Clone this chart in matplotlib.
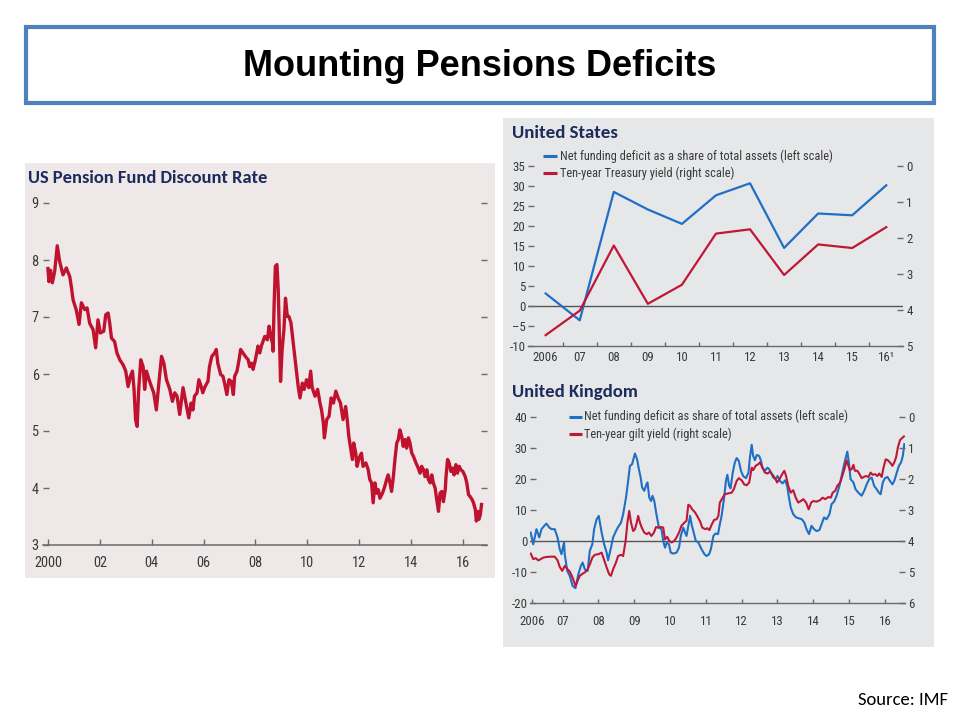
import matplotlib
matplotlib.use("Agg")
import matplotlib.pyplot as plt
import matplotlib.font_manager as fm
from matplotlib.patches import Rectangle
from matplotlib.lines import Line2D

# ---------------- data ----------------
disc_years = [2000.00, 2000.04, 2000.10, 2000.17, 2000.26, 2000.36, 2000.45, 2000.58, 2000.71, 2000.84,
              2000.90, 2000.97, 2001.09, 2001.20, 2001.29, 2001.42, 2001.51, 2001.61, 2001.74, 2001.84,
              2001.93, 2002.02, 2002.15, 2002.23, 2002.32, 2002.38, 2002.45, 2002.57, 2002.66, 2002.77,
              2002.90, 2003.00, 2003.09, 2003.18, 2003.26, 2003.32, 2003.38, 2003.44, 2003.50, 2003.58,
              2003.67, 2003.73, 2003.80, 2003.90, 2003.99, 2004.08, 2004.18, 2004.29, 2004.38, 2004.47,
              2004.57, 2004.70, 2004.80, 2004.89, 2004.98, 2005.08, 2005.21, 2005.32, 2005.43, 2005.52,
              2005.59, 2005.65, 2005.75, 2005.82, 2005.91, 2005.97, 2006.06, 2006.17, 2006.23, 2006.32,
              2006.43, 2006.49, 2006.55, 2006.66, 2006.75, 2006.81, 2006.90, 2006.98, 2007.07, 2007.15,
              2007.20, 2007.29, 2007.37, 2007.43, 2007.52, 2007.61, 2007.72, 2007.78, 2007.85, 2007.91,
              2008.00, 2008.10, 2008.17, 2008.23, 2008.36, 2008.46, 2008.53, 2008.59, 2008.66, 2008.68,
              2008.72, 2008.77, 2008.83, 2008.88, 2008.92, 2008.97, 2009.03, 2009.10, 2009.16, 2009.23,
              2009.29, 2009.37, 2009.46, 2009.52, 2009.59, 2009.65, 2009.72, 2009.81, 2009.88, 2009.97,
              2010.06, 2010.13, 2010.19, 2010.30, 2010.40, 2010.49, 2010.55, 2010.62, 2010.66, 2010.75,
              2010.84, 2010.92, 2011.01, 2011.10, 2011.19, 2011.28, 2011.38, 2011.48, 2011.54, 2011.60,
              2011.66, 2011.74, 2011.79, 2011.87, 2011.92, 2012.00, 2012.09, 2012.15, 2012.26, 2012.35,
              2012.41, 2012.48, 2012.54, 2012.61, 2012.67, 2012.74, 2012.80, 2012.90, 2012.99, 2013.06,
              2013.12, 2013.19, 2013.25, 2013.32, 2013.38, 2013.45, 2013.51, 2013.57, 2013.64, 2013.70,
              2013.77, 2013.83, 2013.90, 2013.96, 2014.03, 2014.09, 2014.19, 2014.28, 2014.35, 2014.41,
              2014.48, 2014.54, 2014.61, 2014.67, 2014.74, 2014.80, 2014.86, 2014.93, 2014.99, 2015.06,
              2015.12, 2015.19, 2015.25, 2015.32, 2015.35, 2015.41, 2015.47, 2015.54, 2015.60, 2015.66,
              2015.73, 2015.79, 2015.86, 2015.92, 2016.00, 2016.09, 2016.15, 2016.22, 2016.28, 2016.35,
              2016.41, 2016.48, 2016.52, 2016.57, 2016.62, 2016.67, 2016.72]
disc_rate = [7.85, 7.62, 7.82, 7.60, 7.80, 8.25, 7.98, 7.74, 7.86, 7.71,
             7.54, 7.30, 7.13, 6.87, 7.25, 7.13, 7.16, 6.89, 6.78, 6.46,
             6.95, 6.72, 6.75, 7.04, 7.07, 6.90, 6.63, 6.57, 6.37, 6.25,
             6.16, 6.05, 5.78, 5.96, 6.05, 5.73, 5.20, 5.08, 5.73, 6.25,
             6.13, 5.73, 6.05, 5.90, 5.78, 5.67, 5.37, 5.90, 6.31, 6.19,
             5.90, 5.73, 5.52, 5.67, 5.61, 5.29, 5.76, 5.49, 5.23, 5.49,
             5.37, 5.61, 5.67, 5.90, 5.78, 5.67, 5.78, 5.87, 6.13, 6.31,
             6.37, 6.43, 6.19, 5.99, 5.96, 5.84, 5.64, 5.90, 5.87, 5.64,
             5.96, 6.05, 6.25, 6.43, 6.37, 6.31, 6.25, 6.13, 6.19, 6.08,
             6.25, 6.49, 6.37, 6.49, 6.66, 6.60, 6.84, 6.66, 6.54, 6.40,
             7.19, 7.89, 7.92, 7.48, 6.78, 5.87, 6.43, 6.78, 7.33, 7.01,
             7.01, 6.90, 6.54, 6.31, 6.02, 5.78, 5.58, 5.84, 5.73, 5.90,
             5.76, 6.05, 5.76, 5.61, 5.73, 5.49, 5.37, 5.14, 4.88, 5.20,
             5.26, 5.58, 5.49, 5.70, 5.58, 5.49, 5.20, 5.43, 5.20, 4.91,
             4.73, 4.50, 4.79, 4.61, 4.38, 4.53, 4.61, 4.38, 4.44, 4.32,
             4.15, 4.09, 3.74, 4.09, 3.91, 3.97, 3.82, 3.91, 4.03, 4.15,
             4.23, 4.09, 3.94, 4.20, 4.50, 4.79, 4.85, 5.02, 4.91, 4.73,
             4.85, 4.70, 4.88, 4.79, 4.61, 4.56, 4.44, 4.35, 4.26, 4.38,
             4.32, 4.20, 4.32, 4.15, 4.09, 4.23, 4.09, 4.00, 3.80, 3.59,
             3.91, 3.94, 3.76, 3.97, 4.20, 4.50, 4.44, 4.29, 4.35, 4.23,
             4.41, 4.26, 4.38, 4.32, 4.29, 4.20, 4.09, 3.88, 3.85, 3.80,
             3.74, 3.62, 3.42, 3.59, 3.45, 3.53, 3.71]
disc_xticks = [2000, 2002, 2004, 2006, 2008, 2010, 2012, 2014, 2016]
disc_xlabels = ["2000", "02", "04", "06", "08", "10", "12", "14", "16"]
disc_yticks = [3, 4, 5, 6, 7, 8, 9]

us_years = [2006, 2007, 2008, 2009, 2010, 2011, 2012, 2013, 2014, 2015, 2016]
us_xlabels = ["2006", "07", "08", "09", "10", "11", "12", "13", "14", "15", "16\u00b9"]
us_deficit = [3.2, -3.5, 28.6, 24.2, 20.6, 27.75, 30.75, 14.6, 23.2, 22.75, 30.25]
us_yield = [4.69, 4.01, 2.20, 3.82, 3.29, 1.87, 1.75, 3.02, 2.17, 2.27, 1.69]
us_left_ticks = [-10, -5, 0, 5, 10, 15, 20, 25, 30, 35]
us_left_labels = ["-10", "\u20135", "0", "5", "10", "15", "20", "25", "30", "35"]
us_right_ticks = [0, 1, 2, 3, 4, 5]

uk_def_years = [2006.11, 2006.18, 2006.27, 2006.35, 2006.41, 2006.49, 2006.55, 2006.63, 2006.69, 2006.78,
                2006.86, 2006.92, 2006.97, 2007.04, 2007.06, 2007.13, 2007.20, 2007.28, 2007.36, 2007.44,
                2007.51, 2007.56, 2007.62, 2007.70, 2007.76, 2007.83, 2007.88, 2007.95, 2008.01, 2008.09,
                2008.16, 2008.23, 2008.27, 2008.35, 2008.41, 2008.49, 2008.55, 2008.63, 2008.69, 2008.77,
                2008.83, 2008.88, 2008.94, 2008.99, 2009.02, 2009.08, 2009.13, 2009.18, 2009.22, 2009.28,
                2009.34, 2009.37, 2009.42, 2009.47, 2009.51, 2009.56, 2009.62, 2009.69, 2009.76, 2009.81,
                2009.86, 2009.91, 2009.97, 2010.02, 2010.09, 2010.18, 2010.25, 2010.30, 2010.37, 2010.42,
                2010.46, 2010.51, 2010.56, 2010.60, 2010.67, 2010.72, 2010.79, 2010.88, 2010.96, 2011.02,
                2011.09, 2011.14, 2011.21, 2011.27, 2011.34, 2011.39, 2011.44, 2011.51, 2011.56, 2011.60,
                2011.65, 2011.69, 2011.75, 2011.81, 2011.86, 2011.92, 2011.98, 2012.04, 2012.12, 2012.19,
                2012.23, 2012.28, 2012.32, 2012.37, 2012.42, 2012.49, 2012.54, 2012.58, 2012.65, 2012.72,
                2012.77, 2012.82, 2012.88, 2012.95, 2013.00, 2013.07, 2013.14, 2013.21, 2013.27, 2013.32,
                2013.37, 2013.44, 2013.52, 2013.60, 2013.68, 2013.75, 2013.81, 2013.88, 2013.95, 2014.02,
                2014.09, 2014.17, 2014.23, 2014.30, 2014.37, 2014.45, 2014.51, 2014.58, 2014.65, 2014.73,
                2014.79, 2014.86, 2014.91, 2014.95, 2015.00, 2015.04, 2015.12, 2015.18, 2015.26, 2015.35,
                2015.42, 2015.49, 2015.56, 2015.63, 2015.70, 2015.77, 2015.83, 2015.88, 2015.94, 2016.00,
                2016.07, 2016.14, 2016.21, 2016.26, 2016.33, 2016.39, 2016.45, 2016.50, 2016.54]
uk_deficit = [2.7, -1.1, 3.8, 1.1, 3.8, 4.9, 5.6, 4.3, 3.8, 3.8,
              1.1, -2.7, -4.3, -0.5, -4.3, -9.7, -11.3, -14.6, -15.3, -10.8,
              -8.1, -7.0, -9.2, -9.7, -3.2, -1.1, 3.8, 7.0, 8.1, 2.7,
              -1.1, -3.8, -6.3, -2.2, 1.1, 3.2, 4.5, 5.9, 8.6, 14.0,
              19.4, 24.3, 24.8, 27.0, 28.3, 26.4, 23.2, 20.5, 17.3, 16.2,
              18.3, 18.9, 14.0, 12.9, 14.6, 12.9, 8.6, 4.3, 3.8, 0.0,
              -2.2, -0.5, -1.1, -3.8, -4.1, -3.8, -2.2, 1.6, 4.3, 2.7,
              1.6, 4.9, 8.1, 5.4, 2.2, 0.0, -0.5, -2.7, -4.3, -4.9,
              -4.3, -2.7, 1.6, 2.4, 2.2, 5.4, 8.1, 14.0, 19.4, 21.4,
              17.8, 17.0, 22.1, 25.4, 26.8, 25.9, 22.7, 21.0, 20.3, 22.1,
              27.0, 31.1, 27.5, 26.1, 27.8, 27.5, 25.9, 23.7, 22.7, 23.7,
              23.2, 22.1, 20.5, 20.0, 21.0, 19.4, 18.6, 19.6, 17.8, 14.0,
              10.8, 8.6, 7.6, 7.3, 7.0, 5.9, 3.8, 2.2, 4.9, 3.8,
              3.2, 3.5, 5.4, 7.6, 7.0, 8.6, 11.9, 12.7, 14.6, 17.8,
              21.0, 24.8, 27.0, 28.9, 24.8, 20.0, 18.9, 16.7, 15.6, 14.6,
              16.2, 18.3, 20.0, 20.5, 17.8, 16.7, 15.6, 15.1, 18.9, 20.3,
              20.7, 19.4, 18.3, 19.4, 22.1, 24.3, 25.4, 27.5, 31.3]
uk_yld_years = [2006.11, 2006.18, 2006.25, 2006.32, 2006.39, 2006.46, 2006.55, 2006.69, 2006.78, 2006.86,
                2006.92, 2006.99, 2007.06, 2007.14, 2007.20, 2007.28, 2007.36, 2007.42, 2007.48, 2007.56,
                2007.62, 2007.70, 2007.76, 2007.83, 2007.90, 2008.00, 2008.09, 2008.15, 2008.23, 2008.30,
                2008.35, 2008.41, 2008.49, 2008.55, 2008.63, 2008.69, 2008.76, 2008.81, 2008.86, 2008.91,
                2008.97, 2009.02, 2009.07, 2009.11, 2009.16, 2009.21, 2009.28, 2009.35, 2009.41, 2009.48,
                2009.55, 2009.61, 2009.67, 2009.75, 2009.81, 2009.86, 2009.92, 2009.98, 2010.04, 2010.12,
                2010.18, 2010.25, 2010.32, 2010.40, 2010.46, 2010.51, 2010.56, 2010.62, 2010.70, 2010.77,
                2010.84, 2010.90, 2010.98, 2011.04, 2011.10, 2011.16, 2011.23, 2011.30, 2011.35, 2011.39,
                2011.47, 2011.53, 2011.63, 2011.72, 2011.78, 2011.86, 2011.92, 2012.00, 2012.07, 2012.14,
                2012.21, 2012.28, 2012.32, 2012.39, 2012.46, 2012.51, 2012.58, 2012.65, 2012.72, 2012.79,
                2012.85, 2012.93, 2012.99, 2013.07, 2013.14, 2013.19, 2013.24, 2013.30, 2013.37, 2013.44,
                2013.51, 2013.58, 2013.65, 2013.72, 2013.80, 2013.87, 2013.94, 2014.00, 2014.09, 2014.19,
                2014.26, 2014.33, 2014.42, 2014.49, 2014.54, 2014.61, 2014.67, 2014.75, 2014.81, 2014.88,
                2014.93, 2014.98, 2015.02, 2015.07, 2015.12, 2015.16, 2015.23, 2015.29, 2015.35, 2015.41,
                2015.47, 2015.54, 2015.60, 2015.66, 2015.72, 2015.79, 2015.84, 2015.91, 2015.96, 2016.02,
                2016.08, 2016.14, 2016.21, 2016.26, 2016.31, 2016.36, 2016.42, 2016.47, 2016.53]
uk_yield = [4.41, 4.59, 4.56, 4.63, 4.59, 4.54, 4.52, 4.51, 4.51, 4.63,
            4.84, 4.97, 4.81, 4.92, 4.99, 5.19, 5.46, 5.29, 5.13, 5.06,
            5.02, 4.92, 4.76, 4.54, 4.45, 4.43, 4.38, 4.59, 4.86, 5.08,
            5.13, 4.92, 4.70, 4.49, 4.45, 4.49, 4.00, 3.41, 3.03, 3.41,
            3.68, 3.62, 3.41, 3.19, 3.41, 3.57, 3.73, 3.78, 3.73, 3.84,
            3.73, 3.55, 3.57, 3.55, 3.57, 3.95, 3.87, 4.00, 4.05, 4.00,
            3.89, 3.73, 3.51, 3.41, 3.35, 2.83, 2.87, 2.98, 3.08, 3.22,
            3.37, 3.57, 3.62, 3.59, 3.65, 3.48, 3.32, 3.30, 3.19, 2.76,
            2.60, 2.49, 2.46, 2.44, 2.33, 2.06, 1.97, 2.04, 2.17, 2.20,
            2.11, 1.63, 1.71, 1.57, 1.52, 1.46, 1.63, 1.79, 1.82, 1.76,
            1.84, 1.97, 2.11, 1.97, 1.82, 1.73, 1.90, 2.22, 2.44, 2.36,
            2.60, 2.76, 2.71, 2.65, 2.76, 2.98, 2.76, 2.71, 2.73, 2.68,
            2.60, 2.65, 2.58, 2.60, 2.44, 2.38, 2.22, 2.11, 1.90, 1.63,
            1.39, 1.57, 1.71, 1.68, 1.54, 1.73, 1.73, 1.84, 1.97, 1.93,
            1.90, 1.93, 1.79, 1.86, 1.84, 1.90, 1.82, 1.93, 1.63, 1.36,
            1.39, 1.46, 1.57, 1.46, 1.30, 0.98, 0.74, 0.68, 0.62]
uk_xticks = [2006.15, 2007, 2008, 2009, 2010, 2011, 2012, 2013, 2014, 2015, 2016]
uk_xlabels = ["2006", "07", "08", "09", "10", "11", "12", "13", "14", "15", "16"]
uk_left_ticks = [-20, -10, 0, 10, 20, 30, 40]
uk_right_ticks = [0, 1, 2, 3, 4, 5, 6]

# ---------------- fonts ----------------
names = {f.name for f in fm.fontManager.ttflist}
NARROW = "Liberation Sans"
for cand in ["Liberation Sans Narrow", "Arial Narrow", "Roboto Condensed", "Noto Sans Condensed",
             "Open Sans Condensed", "Noto Sans SemiCondensed"]:
    if cand in names:
        NARROW = cand
        break
HEAD = "Carlito" if "Carlito" in names else "Lato"

NAVY = "#1c2a5c"
TXT = "#3a3a3a"
BLUE = "#1f6fc4"
RED = "#bf1737"
RED_L = "#c0122f"

W, H = 960, 720
fig = plt.figure(figsize=(9.6, 7.2), dpi=100)
fig.patch.set_facecolor("white")
renderer = fig.canvas.get_renderer()


def fx(px):
    return px / W


def fy(py):
    return 1 - py / H


def text_width(txt, family, size, weight="normal"):
    t = fig.text(0, 0, txt, family=family, fontsize=size, fontweight=weight)
    w = t.get_window_extent(renderer).width
    t.remove()
    return w


def fit_size(txt, family, target_px, weight="normal"):
    return 10.0 * target_px / text_width(txt, family, 10.0, weight)


# sizes derived from widths measured on the reference
R_FS = fit_size("Net funding deficit as a share of total assets (left scale)", NARROW, 271)
T_FS = fit_size("2006", NARROW, 25)
L_FS = fit_size("2000", NARROW, 28)
TITLE_FS = fit_size("Mounting Pensions Deficits", "Liberation Sans", 474, "bold")
HL_FS = fit_size("US Pension Fund Discount Rate", HEAD, 240, "bold")
HU_FS = fit_size("United States", HEAD, 106, "bold")
HK_FS = fit_size("United Kingdom", HEAD, 126, "bold")
SRC_FS = fit_size("Source: IMF", HEAD, 90)


def axes_px(left, top, right, bottom):
    return fig.add_axes([fx(left), fy(bottom), fx(right - left), (bottom - top) / H])


# title box
fig.patches.append(Rectangle((fx(26), fy(103)), fx(908), (103 - 27) / H, transform=fig.transFigure,
                             facecolor="white", edgecolor="#4f81bd", linewidth=3, zorder=-5))
fig.text(fx(480), fy(66), "Mounting Pensions Deficits", ha="center", va="center",
         fontsize=TITLE_FS, fontweight="bold", family="Liberation Sans", color="black")

# panels
fig.patches.append(Rectangle((fx(25), fy(578)), fx(470), (578 - 163) / H, transform=fig.transFigure,
                             facecolor="#eee8e8", edgecolor="none", zorder=-5))
fig.patches.append(Rectangle((fx(503), fy(647)), fx(431), (647 - 118) / H, transform=fig.transFigure,
                             facecolor="#e6e7e9", edgecolor="none", zorder=-5))

# ---------------- left chart ----------------
axL = axes_px(43, 203, 487, 545)
axL.patch.set_alpha(0)
axL.plot(disc_years, disc_rate, color=RED_L, lw=2.4, solid_joinstyle="round")
axL.set_xlim(1999.81, 2016.93)
axL.set_ylim(3, 9)
for s in ["top", "left", "right"]:
    axL.spines[s].set_visible(False)
axL.spines["bottom"].set_color("#6a6a6a")
axL.spines["bottom"].set_linewidth(1.1)
axL.set_xticks(disc_xticks)
axL.set_xticklabels(disc_xlabels)
axL.set_yticks(disc_yticks)
axL.set_yticklabels([str(v) for v in disc_yticks])
axL.tick_params(axis="x", direction="in", length=4.5, width=1, color="#6a6a6a", pad=8,
                labelsize=L_FS, labelcolor=TXT)
axL.tick_params(axis="y", direction="in", length=4, width=1, color="#6a6a6a", pad=3,
                labelsize=L_FS, labelcolor=TXT, right=True, labelright=False)
for lab in axL.get_xticklabels() + axL.get_yticklabels():
    lab.set_family(NARROW)
fig.text(fx(28), fy(183), "US Pension Fund Discount Rate", ha="left", va="baseline",
         fontsize=HL_FS, fontweight="bold", family=HEAD, color=NAVY)

# ---------------- US chart ----------------
axU = axes_px(528.3, 166.3, 903.3, 346.3)
axU.patch.set_alpha(0)
axU.set_xlim(2005.49, 2016.5)
axU.set_ylim(-10, 35)
axU.axhline(0, color="#555555", lw=1.0, zorder=1)
axU.plot(us_years, us_deficit, color=BLUE, lw=1.6, zorder=3)
axU2 = axU.twinx()
axU2.set_ylim(5, 0)
axU2.plot(us_years, us_yield, color=RED, lw=1.6, zorder=3)
for a in (axU, axU2):
    for s in ["top", "left", "right", "bottom"]:
        a.spines[s].set_visible(False)
axU.spines["bottom"].set_visible(True)
axU.spines["bottom"].set_color("#6a6a6a")
axU.spines["bottom"].set_linewidth(1.0)
axU.set_xticks(us_years)
axU.set_xticklabels(us_xlabels)
axU.set_xticks([y + 0.5 for y in us_years[:-1]], minor=True)
axU.tick_params(axis="x", which="major", length=0, pad=3.5, labelsize=T_FS, labelcolor=TXT)
axU.tick_params(axis="x", which="minor", direction="in", length=3, width=1, color="#6a6a6a")
axU.set_yticks(us_left_ticks)
axU.set_yticklabels(us_left_labels)
axU.tick_params(axis="y", direction="in", length=4, width=1, color="#6a6a6a", pad=2,
                labelsize=T_FS, labelcolor=TXT)
axU2.set_yticks(us_right_ticks)
axU2.set_yticklabels([str(v) for v in us_right_ticks])
axU2.tick_params(axis="y", direction="in", length=4, width=1, color="#6a6a6a", pad=2,
                 labelsize=T_FS, labelcolor=TXT)
for lab in axU.get_xticklabels() + axU.get_yticklabels() + axU2.get_yticklabels():
    lab.set_family(NARROW)
fig.text(fx(512), fy(138), "United States", ha="left", va="baseline",
         fontsize=HU_FS, fontweight="bold", family=HEAD, color=NAVY)

# ---------------- UK chart ----------------
axK = axes_px(530, 417.3, 905, 602.7)
axK.patch.set_alpha(0)
axK.set_xlim(2006.09, 2016.56)
axK.set_ylim(-20, 40)
axK.axhline(0, color="#555555", lw=1.0, zorder=1)
axK.plot(uk_def_years, uk_deficit, color=BLUE, lw=1.5, zorder=3)
axK2 = axK.twinx()
axK2.set_ylim(6, 0)
axK2.plot(uk_yld_years, uk_yield, color=RED, lw=1.5, zorder=2)
for a in (axK, axK2):
    for s in ["top", "left", "right", "bottom"]:
        a.spines[s].set_visible(False)
axK.spines["bottom"].set_visible(True)
axK.spines["bottom"].set_color("#6a6a6a")
axK.spines["bottom"].set_linewidth(1.0)
axK.set_xticks(uk_xticks)
axK.set_xticklabels(uk_xlabels)
axK.tick_params(axis="x", direction="in", length=3, width=1, color="#6a6a6a", pad=8.5,
                labelsize=T_FS, labelcolor=TXT)
axK.set_yticks(uk_left_ticks)
axK.set_yticklabels([str(v) for v in uk_left_ticks])
axK.tick_params(axis="y", direction="in", length=4, width=1, color="#6a6a6a", pad=2,
                labelsize=T_FS, labelcolor=TXT)
axK2.set_yticks(uk_right_ticks)
axK2.set_yticklabels([str(v) for v in uk_right_ticks])
axK2.tick_params(axis="y", direction="in", length=4, width=1, color="#6a6a6a", pad=2,
                 labelsize=T_FS, labelcolor=TXT)
for lab in axK.get_xticklabels() + axK.get_yticklabels() + axK2.get_yticklabels():
    lab.set_family(NARROW)
fig.text(fx(512), fy(397), "United Kingdom", ha="left", va="baseline",
         fontsize=HK_FS, fontweight="bold", family=HEAD, color=NAVY)


# legends
def legend_entry(x0, x1, ypx, color, label):
    fig.add_artist(Line2D([fx(x0), fx(x1)], [fy(ypx), fy(ypx)], transform=fig.transFigure,
                          color=color, lw=2.2, solid_capstyle="butt"))
    fig.text(fx(x1 + 2.5), fy(ypx), label, ha="left", va="center", fontsize=R_FS,
             family=NARROW, color=TXT)


legend_entry(542.7, 557, 156.3, BLUE, "Net funding deficit as a share of total assets (left scale)")
legend_entry(542.7, 557, 173, RED, "Ten-year Treasury yield (right scale)")
legend_entry(568.7, 582, 416.7, BLUE, "Net funding deficit as share of total assets (left scale)")
legend_entry(568.7, 582, 434, RED, "Ten-year gilt yield (right scale)")

fig.text(fx(948), fy(705), "Source: IMF", ha="right", va="baseline", fontsize=SRC_FS,
         family=HEAD, color="black")

fig.savefig("out.png", dpi=100)
